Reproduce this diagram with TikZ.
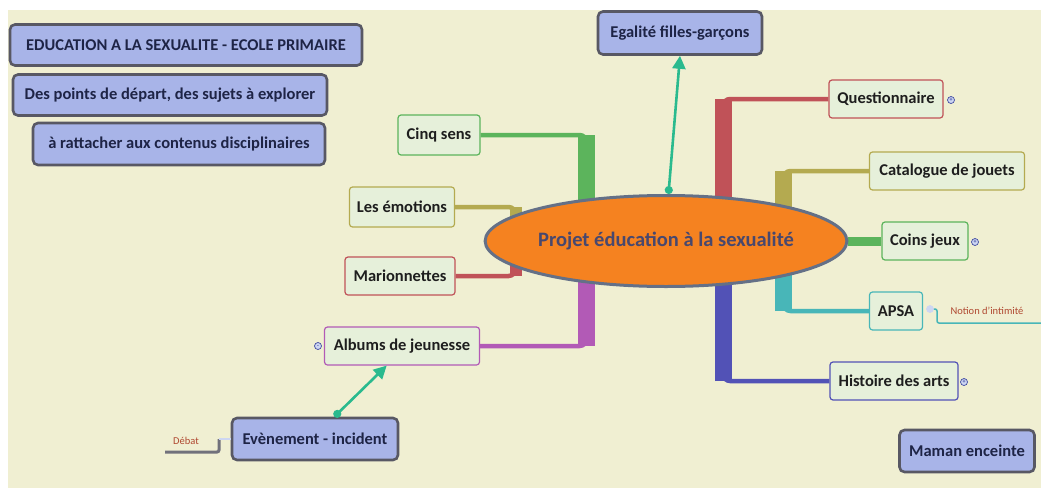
\documentclass[tikz,border=0pt]{standalone}
\usepackage{fontspec}
\setmainfont{Carlito}
\usetikzlibrary{shapes.geometric,arrows.meta}
\definecolor{paper}{RGB}{240,239,210}
\definecolor{topicfill}{RGB}{230,240,218}
\definecolor{boardfill}{RGB}{168,180,232}
\definecolor{boardline}{RGB}{88,88,100}
\definecolor{inktext}{RGB}{30,30,30}
\definecolor{boardtext}{RGB}{30,36,70}
\definecolor{hubfill}{RGB}{245,130,32}
\definecolor{hubline}{RGB}{100,112,135}
\definecolor{hubtext}{RGB}{72,72,110}
\definecolor{brgreen}{RGB}{92,180,92}
\definecolor{brolive}{RGB}{180,170,80}
\definecolor{brred}{RGB}{192,82,88}
\definecolor{brpurple}{RGB}{178,90,182}
\definecolor{brteal}{RGB}{72,182,184}
\definecolor{brblue}{RGB}{82,82,182}
\definecolor{linkcol}{RGB}{42,186,142}
\definecolor{notetext}{RGB}{176,72,48}
\definecolor{knobline}{RGB}{64,74,160}
\definecolor{knobfill}{RGB}{205,214,242}
\pgfdeclarelayer{back}
\pgfsetlayers{back,main}
\begin{document}
\begin{tikzpicture}[x=1pt,y=-1pt]
\tikzstyle{every node}+=[inner sep=0pt,font=\bfseries\fontsize{16.5}{19}\selectfont]
\tikzstyle{topic}=[rectangle,rounded corners=3pt,line width=1.2pt,fill=topicfill,text=inktext,minimum height=38pt]
\tikzstyle{board}=[rectangle,draw=boardline,rounded corners=5pt,line width=2.6pt,fill=boardfill,text=boardtext,minimum height=41pt]
\tikzstyle{note}=[text=notetext,font=\fontsize{10.5}{12}\selectfont]
\tikzstyle{knob}=[circle,draw=knobline,fill=knobfill,line width=0.7pt,minimum size=7pt,font=\bfseries\fontsize{6}{6}\selectfont,text=knobline]
\tikzstyle{twig}=[line width=4.5pt,rounded corners=7pt]
\tikzstyle{trunk}=[line width=17pt]
\tikzstyle{link}=[draw=linkcol,line width=2.6pt,{Circle[length=8pt]}-{Triangle[length=13pt,width=13pt]}]
\useasboundingbox (0,0) rectangle (1041,490);
\node [board,minimum width=352pt] (titre) at (186,45) {EDUCATION A LA SEXUALITE - ECOLE PRIMAIRE};
\node [board,minimum width=314pt] (depart) at (170,95) {Des points de départ, des sujets à explorer};
\node [board,minimum width=292pt,minimum height=42pt] (rattacher) at (179,144) {à rattacher aux contenus disciplinaires};
\node [board,minimum width=164pt,minimum height=43pt] (egalite) at (680,33) {Egalité filles-garçons};
\node [board,minimum width=135pt,minimum height=42pt] (maman) at (967,451) {Maman enceinte};
\node [board,minimum width=166pt,minimum height=42pt] (evenement) at (315,439) {Evènement - incident};
\node [ellipse,draw=hubline,line width=3pt,fill=hubfill,text=hubtext,minimum width=323pt,minimum height=91pt,font=\bfseries\fontsize{20.5}{24}\selectfont] (centre) at (666,241) {Projet éducation à la sexualité};
\node [topic,draw=brgreen,minimum width=82pt,minimum height=40pt] (cinq) at (439,135) {Cinq sens};
\node [topic,draw=brolive,minimum width=105pt,minimum height=40pt] (emotions) at (402,207) {Les émotions};
\node [topic,draw=brred,minimum width=110pt] (marion) at (400,276) {Marionnettes};
\node [topic,draw=brpurple,minimum width=155pt] (albums) at (402,346) {Albums de jeunesse};
\node [topic,draw=brred,minimum width=114pt] (questionnaire) at (886,99) {Questionnaire};
\node [topic,draw=brolive,minimum width=155pt] (catalogue) at (947,171) {Catalogue de jouets};
\node [topic,draw=brgreen,minimum width=86pt] (coins) at (925,241) {Coins jeux};
\node [topic,draw=brteal,minimum width=53pt] (apsa) at (896,311) {APSA};
\node [topic,draw=brblue,minimum width=128pt] (histoire) at (894,381) {Histoire des arts};
\node [knob] (questknob) at (951,100) {+};
\node [knob] (coinsknob) at (975,242) {+};
\node [knob] (histknob) at (964,382) {+};
\node [knob] (albumsknob) at (318,346) {-};
\node [knob,draw=knobfill] (apsaknob) at (930,309) {};
\node [note] (notion) at (987,311) {Notion d'intimité};
\node [note] (debat) at (186,441) {Débat};
\coordinate (notionl) at (937,323);
\coordinate (notionr) at (1041,323);
\coordinate (debatl) at (165,452);
\coordinate (debatr) at (219,452);
\begin{pgfonlayer}{back}
\fill [white] (0,0) rectangle (1041,490);
\fill [paper] (8,10) rectangle (1041,488);
\draw [twig,brgreen] (cinq.east) -| (centre.152);
\draw [trunk,brgreen] (centre.152 |- cinq.east) -- (centre.152 |- centre);
\draw [twig,brolive] (emotions.east) -| (centre.170);
\draw [trunk,line width=12pt,brolive] (centre.170 |- emotions.east) -- (centre.170 |- centre);
\draw [twig,brred] (marion.east) -| (centre.190);
\draw [trunk,line width=12pt,brred] (centre.190 |- marion.east) -- (centre.190 |- centre);
\draw [twig,brpurple] (albums.east) -| (centre.208);
\draw [trunk,brpurple] (centre.208 |- albums.east) -- (centre.208 |- centre);
\draw [twig,brred] (questionnaire.west) -| (centre.38);
\draw [trunk,brred] (centre.38 |- questionnaire.west) -- (centre.38 |- centre);
\draw [twig,brolive] (catalogue.west) -| (centre.17);
\draw [trunk,brolive] (centre.17 |- catalogue.west) -- (centre.17 |- centre);
\draw [brgreen,line width=9pt] (centre) -- (coins.west);
\draw [twig,brteal] (apsa.west) -| (centre.343);
\draw [trunk,brteal] (centre.343 |- apsa.west) -- (centre.343 |- centre);
\draw [twig,brblue] (histoire.west) -| (centre.322);
\draw [trunk,brblue] (centre.322 |- histoire.west) -- (centre.322 |- centre);
\end{pgfonlayer}
\draw [link] (centre.87) -- (egalite.south);
\draw [link] (evenement.49) -- (albums.232);
\draw [brteal,line width=1.5pt,rounded corners=2pt] (apsaknob.east) -| (notionl) -- (notionr);
\draw [boardline!85,line width=3pt,rounded corners=2pt] (debatl) -- (debatr) -- (debatr |- evenement.west);
\draw [knobfill,line width=1.5pt] (debatr |- evenement.west) -- (evenement.west);
\end{tikzpicture}
\end{document}
